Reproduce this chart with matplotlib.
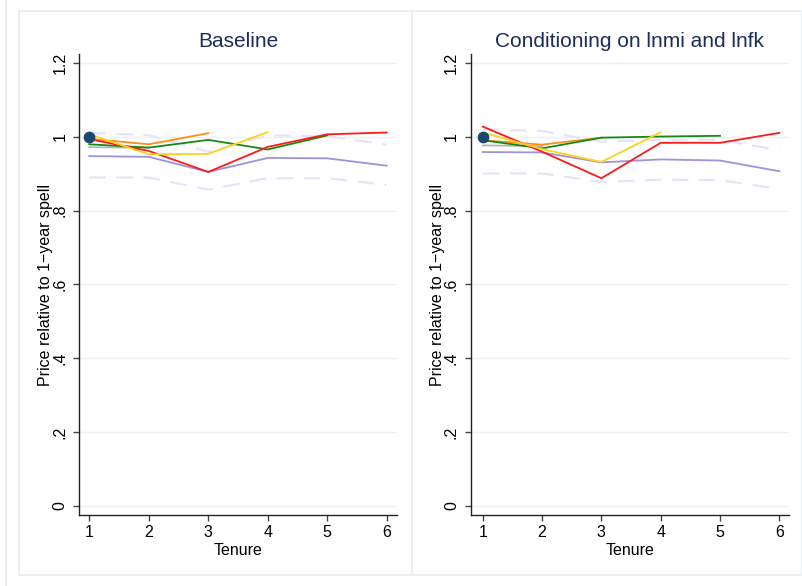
import matplotlib
matplotlib.use("Agg")
import matplotlib.pyplot as plt
from matplotlib.lines import Line2D
from matplotlib.patches import Rectangle

plt.rcParams['font.family'] = ['Liberation Sans', 'DejaVu Sans']

tenure = [1, 2, 3, 4, 5, 6]
yticks = [0, 0.2, 0.4, 0.6, 0.8, 1.0, 1.2]
ytick_labels = ["0", ".2", ".4", ".6", ".8", "1", "1.2"]
titles = ["Baseline", "Conditioning on lnmi and lnfk"]

# Baseline panel
base_ci_upper = [1.011, 1.005, 0.960, 1.004, 1.002, 0.979]
base_ci_lower = [0.890, 0.890, 0.857, 0.888, 0.888, 0.870]
base_pooled = [0.948, 0.946, 0.905, 0.943, 0.942, 0.922]
base_spell2 = [0.972, 0.971]
base_spell3 = [0.995, 0.980, 1.010]
base_spell4 = [1.007, 0.953, 0.954, 1.013]
base_spell5 = [0.980, 0.971, 0.992, 0.966, 1.004]
base_spell6 = [0.994, 0.962, 0.905, 0.973, 1.007, 1.012]

# Conditioning panel
cond_ci_upper = [1.021, 1.016, 0.987, 0.992, 0.992, 0.964]
cond_ci_lower = [0.901, 0.901, 0.878, 0.884, 0.883, 0.859]
cond_pooled = [0.959, 0.958, 0.931, 0.939, 0.936, 0.907]
cond_spell2 = [0.977, 0.975]
cond_spell3 = [0.991, 0.979, 0.998]
cond_spell4 = [1.012, 0.967, 0.932, 1.013]
cond_spell5 = [0.991, 0.969, 0.998, 1.001, 1.003]
cond_spell6 = [1.028, 0.960, 0.888, 0.984, 0.984, 1.011]

anchor_x = [1]
anchor_y = [1.0]

W, H = 803, 586
fig = plt.figure(figsize=(W / 100, H / 100), dpi=100)
fig.patch.set_facecolor("white")

frame_col = "#e6eeef"
# frames
fig.add_artist(Line2D([6 / W, 6 / W], [0, 1], color=frame_col, lw=1.2, transform=fig.transFigure))
fig.add_artist(Rectangle((19 / W, 1 - 575 / H), (802 - 19) / W, (575 - 11) / H, fill=False,
                         edgecolor=frame_col, lw=1.2, transform=fig.transFigure))
fig.add_artist(Line2D([412 / W, 412 / W], [1 - 575 / H, 1 - 11 / H], color=frame_col, lw=1.2,
                      transform=fig.transFigure))

panels = [
    dict(px=(79.3, 397.0), xlim=(0.832, 6.173),
         data=(base_ci_upper, base_ci_lower, base_pooled, base_spell2, base_spell3,
               base_spell4, base_spell5, base_spell6)),
    dict(px=(470.7, 789.3), xlim=(0.796, 6.169),
         data=(cond_ci_upper, cond_ci_lower, cond_pooled, cond_spell2, cond_spell3,
               cond_spell4, cond_spell5, cond_spell6)),
]

top_px, bot_px = 54.3, 515.0
for i, p in enumerate(panels):
    x0, x1 = p["px"]
    ax = fig.add_axes([x0 / W, 1 - bot_px / H, (x1 - x0) / W, (bot_px - top_px) / H])
    ax.set_xlim(*p["xlim"])
    ax.set_ylim(-0.025, 1.224)
    ci_u, ci_l, pooled, s2, s3, s4, s5, s6 = p["data"]
    for yv in yticks:
        ax.axhline(yv, color="#eaf2f3", lw=1.0, zorder=0)
    ax.plot(tenure, ci_u, color="#e4e4f6", lw=1.5, dashes=(8, 5), zorder=1)
    ax.plot(tenure, ci_l, color="#e4e4f6", lw=1.5, dashes=(8, 5), zorder=1)
    ax.plot(tenure, pooled, color="#9c94dc", lw=1.3, zorder=2)
    ax.plot(tenure[:2], s2, color="#b5b5b5", lw=1.3, zorder=3)
    ax.plot(tenure[:3], s3, color="#ff8c1a", lw=1.3, zorder=4)
    ax.plot(tenure[:5], s5, color="#138a13", lw=1.3, zorder=5)
    ax.plot(tenure[:6], s6, color="#ff1a1a", lw=1.3, zorder=6)
    ax.plot(tenure[:4], s4, color="#ffd21a", lw=1.3, zorder=7)
    ax.scatter(anchor_x, anchor_y, s=55, color="#1a476f", zorder=10, clip_on=False)

    for side in ["top", "right"]:
        ax.spines[side].set_visible(False)
    for side in ["left", "bottom"]:
        ax.spines[side].set_color("#222222")
        ax.spines[side].set_linewidth(1.0)
    ax.set_xticks(tenure)
    ax.set_xticklabels([str(t) for t in tenure], fontsize=11.5)
    ax.set_yticks(yticks)
    ax.set_yticklabels(ytick_labels, fontsize=11.5, rotation=90, va="center")
    ax.tick_params(axis="y", length=4.5, width=1.0, color="#444444", pad=4)
    ax.tick_params(axis="x", length=4.5, width=1.0, color="#444444", pad=3)
    ax.set_xlabel("Tenure", fontsize=11.5, labelpad=2)
    ax.set_ylabel("Price relative to 1\u2212year spell", fontsize=11.5)
    ax.yaxis.set_label_coords(-26.0 / (x1 - x0), 0.5)
    ax.set_title(titles[i], fontsize=15, color="#1c2d5a", pad=5)
    ax.set_facecolor("white")

fig.savefig("out.png", dpi=100)
